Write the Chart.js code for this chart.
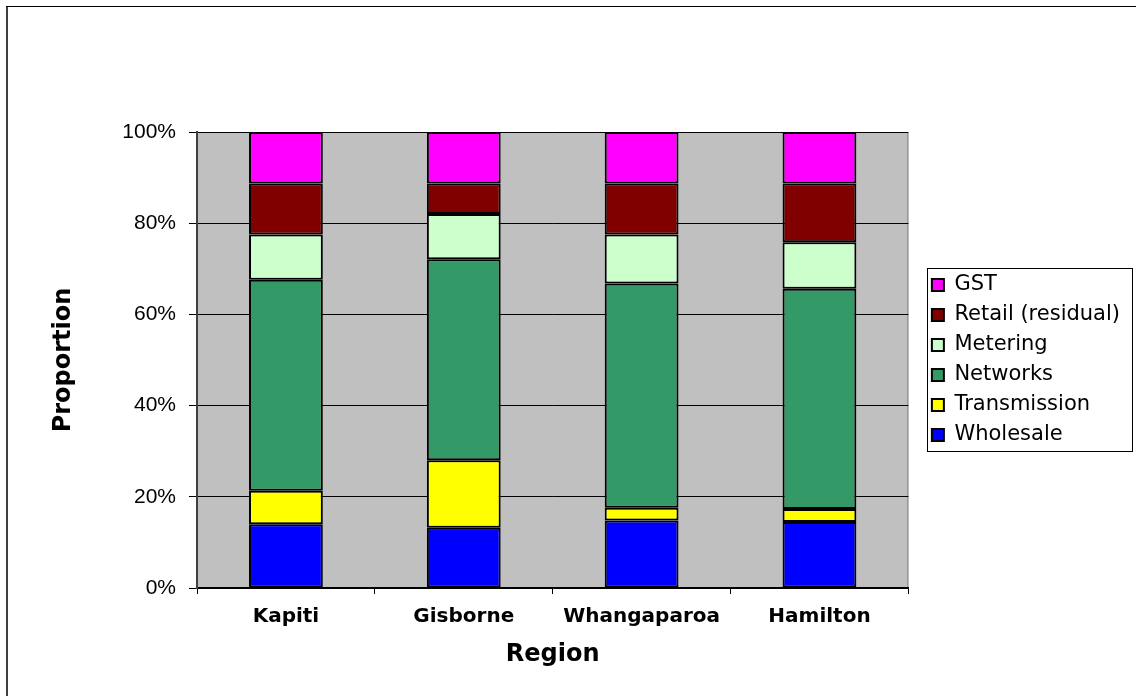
<!DOCTYPE html>
<html>
<head>
<meta charset="utf-8">
<title>Retail electricity price components by region</title>
<script src="https://cdn.jsdelivr.net/npm/chart.js@4/dist/chart.umd.min.js"></script>
<style>
  html, body { margin: 0; padding: 0; background: #ffffff; }
  #chart { display: block; }
</style>
</head>
<body>
<canvas id="chart" width="1136" height="696"></canvas>
<script>
// Regions on the x axis
const regions = ['Kapiti', 'Gisborne', 'Whangaparoa', 'Hamilton'];

// Share of the retail price (%) for each component, per region
const wholesale    = [14.0, 13.2, 14.8, 14.5];
const transmission = [7.3, 14.8, 2.8, 2.8];
const networks     = [46.3, 44.1, 49.2, 48.3];
const metering     = [9.9, 9.9, 10.7, 10.2];
const retail       = [11.2, 6.7, 11.2, 12.9];
const gst          = [11.3, 11.3, 11.3, 11.3];

// Y axis tick values (%)
const yTicks = [0, 20, 40, 60, 80, 100];

const series = [
  { label: 'Wholesale',         data: wholesale,    color: '#0000FF' },
  { label: 'Transmission',      data: transmission, color: '#FFFF00' },
  { label: 'Networks',          data: networks,     color: '#339966' },
  { label: 'Metering',          data: metering,     color: '#CCFFCC' },
  { label: 'Retail (residual)', data: retail,       color: '#800000' },
  { label: 'GST',               data: gst,          color: '#FF00FF' }
];

Chart.defaults.color = '#000000';
Chart.defaults.font.family = '"DejaVu Sans", Verdana, sans-serif';

// Grey plot background, outer frame and the legend's box
const frame = {
  id: 'frame',
  beforeDraw(chart) {
    const { ctx, chartArea: a } = chart;
    ctx.save();
    ctx.fillStyle = '#FFFFFF';
    ctx.fillRect(0, 0, chart.width, chart.height);
    ctx.fillStyle = '#C0C0C0';
    ctx.fillRect(a.left, a.top, a.right - a.left, a.bottom - a.top);
    ctx.strokeStyle = '#808080';
    ctx.lineWidth = 1;
    ctx.beginPath();
    ctx.moveTo(a.left, a.top + 0.5);
    ctx.lineTo(a.right - 0.5, a.top + 0.5);
    ctx.lineTo(a.right - 0.5, a.bottom);
    ctx.stroke();
    // outer chart frame (left and top edges)
    ctx.fillStyle = '#404040';
    ctx.fillRect(6, 6, 2, chart.height - 6);
    ctx.fillStyle = '#000000';
    ctx.fillRect(6, 6, chart.width - 6, 1);
    ctx.restore();
  },
  afterDraw(chart) {
    const lg = chart.legend;
    if (!lg || !lg.legendHitBoxes || !lg.legendHitBoxes.length) return;
    const boxes = lg.legendHitBoxes;
    const first = boxes[0];
    const last = boxes[boxes.length - 1];
    const widest = Math.max(...boxes.map(b => b.left + b.width));
    const x0 = first.left - 4.5;
    const y0 = first.top - 7;
    const x1 = widest + 12;
    const y1 = last.top + last.height + 5;
    const { ctx } = chart;
    ctx.save();
    ctx.strokeStyle = '#000000';
    ctx.lineWidth = 1;
    ctx.strokeRect(Math.round(x0) + 0.5, Math.round(y0) + 0.5,
                   Math.round(x1 - x0), Math.round(y1 - y0));
    ctx.restore();
  }
};

new Chart(document.getElementById('chart'), {
  type: 'bar',
  data: {
    labels: regions,
    datasets: series.map(s => ({
      label: s.label,
      data: s.data,
      backgroundColor: s.color,
      borderColor: '#000000',
      borderWidth: 2,
      borderSkipped: false,
      barPercentage: 0.415,
      categoryPercentage: 1.0
    }))
  },
  options: {
    responsive: false,
    animation: false,
    devicePixelRatio: 1,
    layout: { padding: { top: 132, right: 6, bottom: 0, left: 0 } },
    plugins: {
      title: { display: false },
      tooltip: { enabled: false },
      legend: {
        position: 'right',
        fullSize: false,
        reverse: true,
        maxWidth: 230,
        labels: {
          boxWidth: 12,
          boxHeight: 12,
          padding: 9,
          color: '#000000',
          font: { family: '"DejaVu Sans", Verdana, sans-serif', size: 21 }
        }
      }
    },
    scales: {
      x: {
        stacked: true,
        grid: {
          display: true,
          drawOnChartArea: false,
          drawTicks: true,
          tickLength: 6,
          color: '#000000',
          offset: true
        },
        border: { display: true, color: '#000000', width: 1.5 },
        ticks: {
          padding: 11,
          color: '#000000',
          font: { family: '"DejaVu Sans", Verdana, sans-serif', size: 20, weight: 'bold' }
        },
        title: {
          display: true,
          text: 'Region',
          color: '#000000',
          padding: { top: 0, bottom: 26.6 },
          font: { family: '"DejaVu Sans", Verdana, sans-serif', size: 24, weight: 'bold' }
        },
        afterFit(scale) { scale.height = 108; }
      },
      y: {
        stacked: true,
        min: yTicks[0],
        max: yTicks[yTicks.length - 1],
        afterBuildTicks(scale) { scale.ticks = yTicks.map(v => ({ value: v })); },
        grid: {
          color: '#000000',
          lineWidth: 1,
          drawTicks: true,
          tickLength: 8
        },
        border: { display: true, color: '#404040', width: 2 },
        ticks: {
          padding: 13,
          color: '#000000',
          font: { family: '"Liberation Sans", Arial, sans-serif', size: 21 },
          callback: v => v + '%'
        },
        title: {
          display: true,
          text: 'Proportion',
          color: '#000000',
          padding: { top: 49.6, bottom: 0 },
          font: { family: '"DejaVu Sans", Verdana, sans-serif', size: 24, weight: 'bold' }
        },
        afterFit(scale) { scale.width = 197; }
      },
      // empty gap between the plot area and the legend
      gap: {
        type: 'linear',
        position: 'right',
        display: true,
        grid: { display: false, drawTicks: false },
        border: { display: false },
        ticks: { display: false },
        afterFit(scale) { scale.width = 14.5; }
      }
    }
  },
  plugins: [frame]
});
</script>
</body>
</html>
